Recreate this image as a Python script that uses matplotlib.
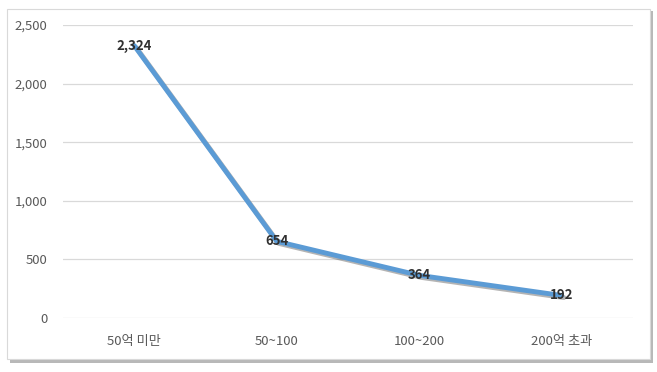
import matplotlib
matplotlib.use("Agg")
import matplotlib.pyplot as plt
import matplotlib.patheffects as pe
from matplotlib.patches import Rectangle

plt.rcParams['font.family'] = ['Noto Sans CJK KR', 'DejaVu Sans']

categories = ['50억 미만', '50~100', '100~200', '200억 초과']
values = [2324, 654, 364, 192]
y_ticks = [0, 500, 1000, 1500, 2000, 2500]

fig = plt.figure(figsize=(6.57, 3.72), dpi=100)

# chart frame with shadow (behind the axes)
fig.patches.append(Rectangle((10 / 657, 1 - 363 / 372), 643 / 657, 352 / 372,
                             transform=fig.transFigure, facecolor='#b8b8b8',
                             edgecolor='none', zorder=-2))
fig.patches.append(Rectangle((7 / 657, 1 - 359 / 372), 643 / 657, 350 / 372,
                             transform=fig.transFigure, facecolor='white',
                             edgecolor='#d9d9d9', linewidth=0.8, zorder=-1))

ax = fig.add_axes([63 / 657, 54 / 372, 570 / 657, 293 / 372])
ax.set_facecolor('none')
x = list(range(len(categories)))
ax.plot(x, values, color='#5b9bd5', linewidth=3.5, solid_capstyle='round',
        path_effects=[pe.SimpleLineShadow(offset=(1.5, -1.5), shadow_color='#444444', alpha=0.4),
                      pe.Normal()], zorder=3)

for xi, v in zip(x, values):
    ax.text(xi, v, f'{v:,}', ha='center', va='center', fontsize=9.5,
            color='#303030', fontweight='bold', zorder=4)

ax.set_xlim(-0.5, len(categories) - 0.5)
ax.set_ylim(0, 2500)
ax.set_yticks(y_ticks)
ax.set_yticklabels([f'{t:,}' for t in y_ticks])
ax.set_xticks(x)
ax.set_xticklabels(categories)
ax.yaxis.grid(True, color='#d9d9d9', linewidth=0.9)
ax.set_axisbelow(True)
for s in ax.spines.values():
    s.set_visible(False)
ax.tick_params(axis='both', length=0, colors='#595959', labelsize=9.5)
ax.tick_params(axis='y', pad=11)
ax.tick_params(axis='x', pad=12)

fig.savefig('out.png', dpi=100)
